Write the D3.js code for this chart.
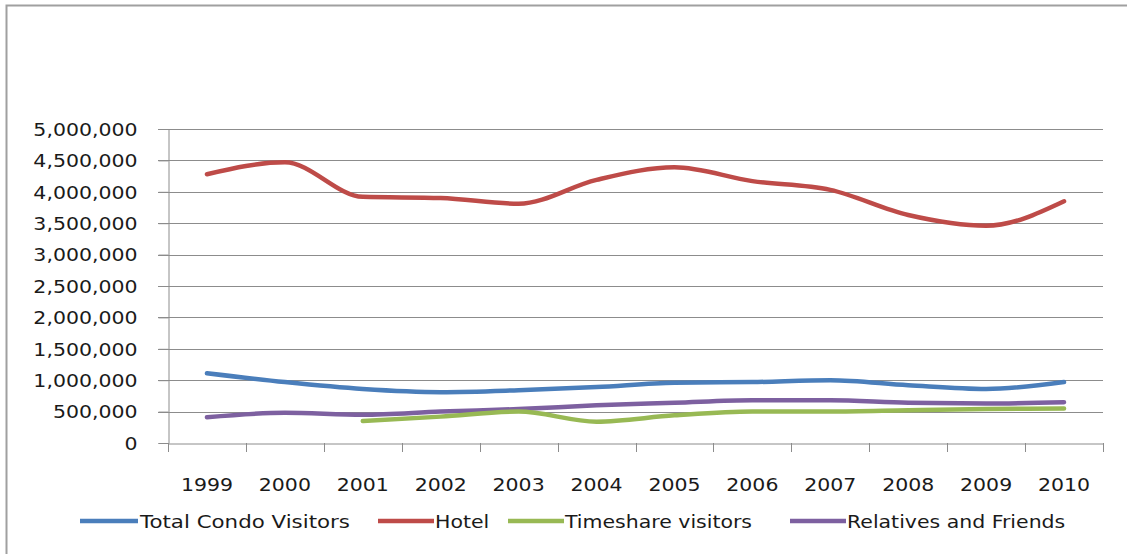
<!DOCTYPE html>
<html><head><meta charset="utf-8">
<script src="https://cdn.jsdelivr.net/npm/d3@7"></script>
<style>
body{margin:0;background:#fff;}
text{font-family:"DejaVu Sans",sans-serif;fill:#1a1a1a;}
</style></head>
<body>
<svg id="c" width="1127" height="554"></svg>
<script>
const years = ["1999","2000","2001","2002","2003","2004","2005","2006","2007","2008","2009","2010"];
const condo = [1110000,970000,860000,810000,840000,890000,960000,970000,1000000,920000,860000,970000];
const hotel = [4280000,4470000,3920000,3900000,3810000,4190000,4390000,4170000,4030000,3630000,3460000,3850000];
const timeshare = [null,null,350000,420000,500000,340000,440000,500000,500000,520000,540000,550000];
const relatives = [410000,480000,450000,500000,540000,600000,640000,680000,680000,640000,630000,650000];
const yTicks = [0,500000,1000000,1500000,2000000,2500000,3000000,3500000,4000000,4500000,5000000];
const seriesNames = ["Total Condo Visitors","Hotel","Timeshare visitors","Relatives and Friends"];
const seriesColors = ["#4a7ebb","#be4b48","#98b954","#7d60a0"];
const seriesData = [condo, hotel, timeshare, relatives];

const svg = d3.select("#c");
const L=168, R=1103, T=129, B=443, SX=1.17;

// outer border
svg.append("path").attr("d","M6.5,554 V5.5 H1127").attr("fill","none").attr("stroke","#a0a0a0").attr("stroke-width",2);

const x = d3.scaleBand().domain(years).range([L,R]);
const y = d3.scaleLinear().domain([0,5000000]).range([B,T]);

// gridlines
svg.append("g").selectAll("line").data(yTicks.filter(d=>d>0)).join("line")
  .attr("x1",L-10).attr("x2",R).attr("y1",d=>Math.round(y(d))+0.5).attr("y2",d=>Math.round(y(d))+0.5)
  .attr("stroke","#8c8c8c").attr("stroke-width",1);

// y axis
const yAxis = svg.append("g").attr("transform",`translate(${L+0.5},0)`)
  .call(d3.axisLeft(y).tickValues(yTicks).tickSize(10).tickFormat(d3.format(",")));
yAxis.select(".domain").attr("stroke","#8c8c8c");
yAxis.selectAll(".tick line").attr("stroke","#8c8c8c");
yAxis.selectAll(".tick text").attr("x",0).attr("dy","0.36em")
  .attr("transform",`translate(-31,0) scale(${SX},1)`)
  .style("font-size","17.5px").style("fill","#1a1a1a").style("font-family","DejaVu Sans");

// x axis
const xAxis = svg.append("g").attr("transform",`translate(0,${B+0.5})`)
  .call(d3.axisBottom(x).tickSize(0).tickFormat(d=>d));
xAxis.select(".domain").attr("stroke","#8c8c8c");
xAxis.selectAll(".tick text").attr("y",0).attr("dy",0)
  .attr("transform",`translate(0,47) scale(${SX},1)`)
  .style("font-size","17.5px").style("fill","#1a1a1a").style("font-family","DejaVu Sans");
// band boundary ticks
const bounds = years.map(d=>x(d)).concat([x(years[years.length-1])+x.bandwidth()]);
svg.append("g").selectAll("line").data(bounds).join("line")
  .attr("x1",d=>Math.round(d)+0.5).attr("x2",d=>Math.round(d)+0.5)
  .attr("y1",B).attr("y2",B+9).attr("stroke","#8c8c8c");

// lines
const line = d3.line()
  .defined(d=>d.v!=null)
  .x(d=>x(d.year)+x.bandwidth()/2)
  .y(d=>y(d.v))
  .curve(d3.curveMonotoneX);

const order = [1,0,3,2];
order.forEach(i=>{
  const pts = years.map((yr,j)=>({year:yr,v:seriesData[i][j]}));
  svg.append("path").datum(pts).attr("d",line)
    .attr("fill","none").attr("stroke",seriesColors[i]).attr("stroke-width",4.5)
    .attr("stroke-linecap","round").attr("stroke-linejoin","round");
});

// legend
const legX = [80, 378, 508, 790];
const lg = svg.append("g");
seriesNames.forEach((n,i)=>{
  const g = lg.append("g").attr("transform",`translate(${legX[i]},521)`);
  g.append("line").attr("x1",0).attr("x2",i===0?58:56).attr("y1",0).attr("y2",0)
    .attr("stroke",seriesColors[i]).attr("stroke-width",4.5);
  g.append("text").attr("transform",`translate(${i===0?60:57},7) scale(${i===0?1.22:SX},1)`)
    .style("font-size","17.5px").text(n);
});
</script>
</body></html>
